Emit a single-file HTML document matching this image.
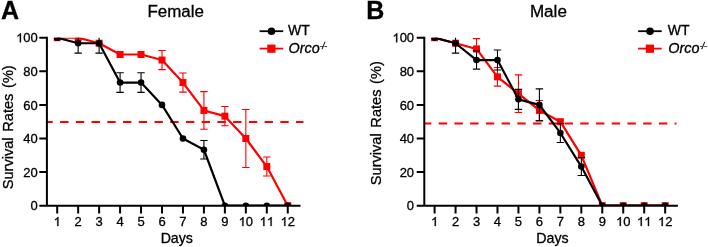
<!DOCTYPE html>
<html><head><meta charset="utf-8"><style>
html,body{margin:0;padding:0;background:#fff;width:708px;height:247px;overflow:hidden}
svg{display:block;will-change:transform}
text{font-family:"Liberation Sans",sans-serif;fill:#000;stroke:#000;stroke-width:0.3px}
</style></head><body>
<svg width="708" height="247" viewBox="0 0 708 247">
<rect width="708" height="247" fill="#fff"/>
<text x="1" y="18.8" font-weight="bold" font-size="25">A</text>
<text x="175.7" y="16.6" text-anchor="middle" font-size="16" textLength="56.5" lengthAdjust="spacingAndGlyphs">Female</text>
<text transform="translate(12.8,127.3) rotate(-90)" text-anchor="middle" font-size="14.6" word-spacing="1.6">Survival Rates (%)</text>
<text x="37.8" y="210.3" text-anchor="end" font-size="13">0</text>
<text x="37.8" y="176.7" text-anchor="end" font-size="13">20</text>
<text x="37.8" y="143.1" text-anchor="end" font-size="13">40</text>
<text x="37.8" y="109.5" text-anchor="end" font-size="13">60</text>
<text x="37.8" y="75.9" text-anchor="end" font-size="13">80</text>
<text x="37.8" y="42.3" text-anchor="end" font-size="13"><tspan fill="transparent" stroke="transparent">1</tspan>00</text>
<path transform="translate(16.12,42.3) scale(0.006348,-0.006348)" d="M763 0L583 0L583 1095C540 1056 483 1017 413 978C343 939 280 909 223 889L223 1055C324 1100 412 1155 487 1220C562 1285 615 1348 646 1409L763 1409Z" stroke="#000" stroke-width="47.3"/>
<text x="57.2" y="226" text-anchor="middle" font-size="13"><tspan fill="transparent" stroke="transparent">1</tspan></text>
<path transform="translate(53.59,226) scale(0.006348,-0.006348)" d="M763 0L583 0L583 1095C540 1056 483 1017 413 978C343 939 280 909 223 889L223 1055C324 1100 412 1155 487 1220C562 1285 615 1348 646 1409L763 1409Z" stroke="#000" stroke-width="47.3"/>
<text x="78.16" y="226" text-anchor="middle" font-size="13">2</text>
<text x="99.12" y="226" text-anchor="middle" font-size="13">3</text>
<text x="120.08" y="226" text-anchor="middle" font-size="13">4</text>
<text x="141.04" y="226" text-anchor="middle" font-size="13">5</text>
<text x="162" y="226" text-anchor="middle" font-size="13">6</text>
<text x="182.96" y="226" text-anchor="middle" font-size="13">7</text>
<text x="203.92" y="226" text-anchor="middle" font-size="13">8</text>
<text x="224.88" y="226" text-anchor="middle" font-size="13">9</text>
<text x="245.84" y="226" text-anchor="middle" font-size="13"><tspan fill="transparent" stroke="transparent">1</tspan>0</text>
<path transform="translate(238.61,226) scale(0.006348,-0.006348)" d="M763 0L583 0L583 1095C540 1056 483 1017 413 978C343 939 280 909 223 889L223 1055C324 1100 412 1155 487 1220C562 1285 615 1348 646 1409L763 1409Z" stroke="#000" stroke-width="47.3"/>
<text x="266.8" y="226" text-anchor="middle" font-size="13"><tspan fill="transparent" stroke="transparent">1</tspan><tspan fill="transparent" stroke="transparent">1</tspan></text>
<path transform="translate(259.57,226) scale(0.006348,-0.006348)" d="M763 0L583 0L583 1095C540 1056 483 1017 413 978C343 939 280 909 223 889L223 1055C324 1100 412 1155 487 1220C562 1285 615 1348 646 1409L763 1409Z" stroke="#000" stroke-width="47.3"/>
<path transform="translate(266.8,226) scale(0.006348,-0.006348)" d="M763 0L583 0L583 1095C540 1056 483 1017 413 978C343 939 280 909 223 889L223 1055C324 1100 412 1155 487 1220C562 1285 615 1348 646 1409L763 1409Z" stroke="#000" stroke-width="47.3"/>
<text x="287.76" y="226" text-anchor="middle" font-size="13"><tspan fill="transparent" stroke="transparent">1</tspan>2</text>
<path transform="translate(280.53,226) scale(0.006348,-0.006348)" d="M763 0L583 0L583 1095C540 1056 483 1017 413 978C343 939 280 909 223 889L223 1055C324 1100 412 1155 487 1220C562 1285 615 1348 646 1409L763 1409Z" stroke="#000" stroke-width="47.3"/>
<text x="176.8" y="242.8" text-anchor="middle" font-size="14.2">Days</text>
<path d="M46.9 122.1H303.5" stroke="#ff0000" stroke-width="2" stroke-dasharray="8.4 7.33" stroke-dashoffset="2.54"/>
<clipPath id="cA"><rect x="46.9" y="37.7" width="253.1" height="168"/></clipPath>
<g clip-path="url(#cA)">
<path d="M162 50.44V69.64M158.3 50.44h7.4M158.3 69.64h7.4M182.96 72.96V92.16M179.26 72.96h7.4M179.26 92.16h7.4M203.92 91.64V129.24M200.22 91.64h7.4M200.22 129.24h7.4M224.88 106.56V125.76M221.18 106.56h7.4M221.18 125.76h7.4M245.84 109.5V167.5M242.14 109.5h7.4M242.14 167.5h7.4M266.8 157.06V176.06M263.1 157.06h7.4M263.1 176.06h7.4" stroke="#ff0000" stroke-width="1.1" fill="none"/>
<polyline points="57.2,37.7 78.16,37.7 99.12,43.24 120.08,54.5 141.04,54.5 162,60.04 182.96,82.56 203.92,110.44 224.88,116.16 245.84,138.5 266.8,166.56 287.76,205.7" stroke="#ff0000" stroke-width="2.2" fill="none" stroke-linejoin="round"/>
<rect x="53.7" y="34.2" width="7" height="7" fill="#ff0000"/>
<rect x="74.66" y="34.2" width="7" height="7" fill="#ff0000"/>
<rect x="95.62" y="39.74" width="7" height="7" fill="#ff0000"/>
<rect x="116.58" y="51" width="7" height="7" fill="#ff0000"/>
<rect x="137.54" y="51" width="7" height="7" fill="#ff0000"/>
<rect x="158.5" y="56.54" width="7" height="7" fill="#ff0000"/>
<rect x="179.46" y="79.06" width="7" height="7" fill="#ff0000"/>
<rect x="200.42" y="106.94" width="7" height="7" fill="#ff0000"/>
<rect x="221.38" y="112.66" width="7" height="7" fill="#ff0000"/>
<rect x="242.34" y="135" width="7" height="7" fill="#ff0000"/>
<rect x="263.3" y="163.06" width="7" height="7" fill="#ff0000"/>
<rect x="284.26" y="202.2" width="7" height="7" fill="#ff0000"/>
<path d="M78.16 33.34V53.14M74.46 33.34h7.4M74.46 53.14h7.4M99.12 33.34V53.14M95.42 33.34h7.4M95.42 53.14h7.4M120.08 72.76V92.36M116.38 72.76h7.4M116.38 92.36h7.4M141.04 72.76V92.36M137.34 72.76h7.4M137.34 92.36h7.4M203.92 140.46V159.06M200.22 140.46h7.4M200.22 159.06h7.4" stroke="#000000" stroke-width="1.1" fill="none"/>
<polyline points="57.2,37.7 78.16,43.24 99.12,43.24 120.08,82.56 141.04,82.56 162,104.9 182.96,138.5 203.92,149.76 224.88,205.7 245.84,205.7 266.8,205.7 287.76,205.7" stroke="#000000" stroke-width="2.2" fill="none" stroke-linejoin="round"/>
<circle cx="57.2" cy="37.7" r="3.3" fill="#000000"/>
<circle cx="78.16" cy="43.24" r="3.3" fill="#000000"/>
<circle cx="99.12" cy="43.24" r="3.3" fill="#000000"/>
<circle cx="120.08" cy="82.56" r="3.3" fill="#000000"/>
<circle cx="141.04" cy="82.56" r="3.3" fill="#000000"/>
<circle cx="162" cy="104.9" r="3.3" fill="#000000"/>
<circle cx="182.96" cy="138.5" r="3.3" fill="#000000"/>
<circle cx="203.92" cy="149.76" r="3.3" fill="#000000"/>
<circle cx="224.88" cy="205.7" r="3.3" fill="#000000"/>
<circle cx="245.84" cy="205.7" r="3.3" fill="#000000"/>
<circle cx="266.8" cy="205.7" r="3.3" fill="#000000"/>
<circle cx="287.76" cy="205.7" r="3.3" fill="#000000"/>
</g>
<path d="M46.9 36.7V206.7M39.3 205.7H300.5" stroke="#000000" stroke-width="2" fill="none"/>
<path d="M39.3 172.1H46.9M39.3 138.5H46.9M39.3 104.9H46.9M39.3 71.3H46.9M39.3 37.7H46.9M57.2 205.7V213.5M78.16 205.7V213.5M99.12 205.7V213.5M120.08 205.7V213.5M141.04 205.7V213.5M162 205.7V213.5M182.96 205.7V213.5M203.92 205.7V213.5M224.88 205.7V213.5M245.84 205.7V213.5M266.8 205.7V213.5M287.76 205.7V213.5" stroke="#000000" stroke-width="2" fill="none"/>
<path d="M259.6 31.2H283.2" stroke="#000000" stroke-width="1.8"/>
<circle cx="271.5" cy="31.2" r="3.8" fill="#000000"/>
<text x="288" y="35.3" font-size="14">WT</text>
<path d="M259.6 48.6H283.2" stroke="#ff0000" stroke-width="1.8"/>
<rect x="267.3" y="44.6" width="8.2" height="8.2" fill="#ff0000"/>
<text x="288.5" y="52.9" font-size="14.4" font-style="italic">Orco<tspan font-size="8.3" dx="0.3" dy="-4.2" letter-spacing="-0.45">-/-</tspan></text>
<text x="366.3" y="18.8" font-weight="bold" font-size="25">B</text>
<text x="548.4" y="16.6" text-anchor="middle" font-size="16" textLength="37" lengthAdjust="spacingAndGlyphs">Male</text>
<text transform="translate(380.9,123.2) rotate(-90)" text-anchor="middle" font-size="14.6" word-spacing="1.6">Survival Rates (%)</text>
<text x="414.1" y="210.3" text-anchor="end" font-size="13">0</text>
<text x="414.1" y="176.7" text-anchor="end" font-size="13">20</text>
<text x="414.1" y="143.1" text-anchor="end" font-size="13">40</text>
<text x="414.1" y="109.5" text-anchor="end" font-size="13">60</text>
<text x="414.1" y="75.9" text-anchor="end" font-size="13">80</text>
<text x="414.1" y="42.3" text-anchor="end" font-size="13"><tspan fill="transparent" stroke="transparent">1</tspan>00</text>
<path transform="translate(392.42,42.3) scale(0.006348,-0.006348)" d="M763 0L583 0L583 1095C540 1056 483 1017 413 978C343 939 280 909 223 889L223 1055C324 1100 412 1155 487 1220C562 1285 615 1348 646 1409L763 1409Z" stroke="#000" stroke-width="47.3"/>
<text x="434.6" y="226" text-anchor="middle" font-size="13"><tspan fill="transparent" stroke="transparent">1</tspan></text>
<path transform="translate(430.99,226) scale(0.006348,-0.006348)" d="M763 0L583 0L583 1095C540 1056 483 1017 413 978C343 939 280 909 223 889L223 1055C324 1100 412 1155 487 1220C562 1285 615 1348 646 1409L763 1409Z" stroke="#000" stroke-width="47.3"/>
<text x="455.56" y="226" text-anchor="middle" font-size="13">2</text>
<text x="476.52" y="226" text-anchor="middle" font-size="13">3</text>
<text x="497.48" y="226" text-anchor="middle" font-size="13">4</text>
<text x="518.44" y="226" text-anchor="middle" font-size="13">5</text>
<text x="539.4" y="226" text-anchor="middle" font-size="13">6</text>
<text x="560.36" y="226" text-anchor="middle" font-size="13">7</text>
<text x="581.32" y="226" text-anchor="middle" font-size="13">8</text>
<text x="602.28" y="226" text-anchor="middle" font-size="13">9</text>
<text x="623.24" y="226" text-anchor="middle" font-size="13"><tspan fill="transparent" stroke="transparent">1</tspan>0</text>
<path transform="translate(616.01,226) scale(0.006348,-0.006348)" d="M763 0L583 0L583 1095C540 1056 483 1017 413 978C343 939 280 909 223 889L223 1055C324 1100 412 1155 487 1220C562 1285 615 1348 646 1409L763 1409Z" stroke="#000" stroke-width="47.3"/>
<text x="644.2" y="226" text-anchor="middle" font-size="13"><tspan fill="transparent" stroke="transparent">1</tspan><tspan fill="transparent" stroke="transparent">1</tspan></text>
<path transform="translate(636.97,226) scale(0.006348,-0.006348)" d="M763 0L583 0L583 1095C540 1056 483 1017 413 978C343 939 280 909 223 889L223 1055C324 1100 412 1155 487 1220C562 1285 615 1348 646 1409L763 1409Z" stroke="#000" stroke-width="47.3"/>
<path transform="translate(644.2,226) scale(0.006348,-0.006348)" d="M763 0L583 0L583 1095C540 1056 483 1017 413 978C343 939 280 909 223 889L223 1055C324 1100 412 1155 487 1220C562 1285 615 1348 646 1409L763 1409Z" stroke="#000" stroke-width="47.3"/>
<text x="665.16" y="226" text-anchor="middle" font-size="13"><tspan fill="transparent" stroke="transparent">1</tspan>2</text>
<path transform="translate(657.93,226) scale(0.006348,-0.006348)" d="M763 0L583 0L583 1095C540 1056 483 1017 413 978C343 939 280 909 223 889L223 1055C324 1100 412 1155 487 1220C562 1285 615 1348 646 1409L763 1409Z" stroke="#000" stroke-width="47.3"/>
<text x="552.5" y="242.8" text-anchor="middle" font-size="14.2">Days</text>
<path d="M424.3 123.6H676.5" stroke="#ff0000" stroke-width="2" stroke-dasharray="8.4 7.33" stroke-dashoffset="1.34"/>
<clipPath id="cB"><rect x="424.3" y="37.7" width="253.1" height="168"/></clipPath>
<g clip-path="url(#cB)">
<path d="M476.52 38.66V59.26M472.82 38.66h7.4M472.82 59.26h7.4M497.48 67.54V86.14M493.78 67.54h7.4M493.78 86.14h7.4M518.44 74.84V112.44M514.74 74.84h7.4M514.74 112.44h7.4M539.4 100.44V120.44M535.7 100.44h7.4M535.7 120.44h7.4" stroke="#ff0000" stroke-width="1.1" fill="none"/>
<polyline points="434.6,37.7 455.56,43.24 476.52,48.96 497.48,76.84 518.44,93.64 539.4,110.44 560.36,121.7 581.32,155.3 602.28,205.7 623.24,205.7 644.2,205.7 665.16,205.7" stroke="#ff0000" stroke-width="2.2" fill="none" stroke-linejoin="round"/>
<rect x="431.1" y="34.2" width="7" height="7" fill="#ff0000"/>
<rect x="452.06" y="39.74" width="7" height="7" fill="#ff0000"/>
<rect x="473.02" y="45.46" width="7" height="7" fill="#ff0000"/>
<rect x="493.98" y="73.34" width="7" height="7" fill="#ff0000"/>
<rect x="514.94" y="90.14" width="7" height="7" fill="#ff0000"/>
<rect x="535.9" y="106.94" width="7" height="7" fill="#ff0000"/>
<rect x="556.86" y="118.2" width="7" height="7" fill="#ff0000"/>
<rect x="577.82" y="151.8" width="7" height="7" fill="#ff0000"/>
<rect x="598.78" y="202.2" width="7" height="7" fill="#ff0000"/>
<rect x="619.74" y="202.2" width="7" height="7" fill="#ff0000"/>
<rect x="640.7" y="202.2" width="7" height="7" fill="#ff0000"/>
<rect x="661.66" y="202.2" width="7" height="7" fill="#ff0000"/>
<path d="M455.56 33.34V53.14M451.86 33.34h7.4M451.86 53.14h7.4M476.52 50.94V69.14M472.82 50.94h7.4M472.82 69.14h7.4M497.48 50.04V70.04M493.78 50.04h7.4M493.78 70.04h7.4M518.44 89.36V109.36M514.74 89.36h7.4M514.74 109.36h7.4M539.4 88.9V120.9M535.7 88.9h7.4M535.7 120.9h7.4M560.36 123.46V142.46M556.66 123.46h7.4M556.66 142.46h7.4M581.32 157.56V175.56M577.62 157.56h7.4M577.62 175.56h7.4" stroke="#000000" stroke-width="1.1" fill="none"/>
<polyline points="434.6,37.7 455.56,43.24 476.52,60.04 497.48,60.04 518.44,99.36 539.4,104.9 560.36,132.96 581.32,166.56 602.28,205.7 623.24,205.7 644.2,205.7 665.16,205.7" stroke="#000000" stroke-width="2.2" fill="none" stroke-linejoin="round"/>
<circle cx="434.6" cy="37.7" r="3.3" fill="#000000"/>
<circle cx="455.56" cy="43.24" r="3.3" fill="#000000"/>
<circle cx="476.52" cy="60.04" r="3.3" fill="#000000"/>
<circle cx="497.48" cy="60.04" r="3.3" fill="#000000"/>
<circle cx="518.44" cy="99.36" r="3.3" fill="#000000"/>
<circle cx="539.4" cy="104.9" r="3.3" fill="#000000"/>
<circle cx="560.36" cy="132.96" r="3.3" fill="#000000"/>
<circle cx="581.32" cy="166.56" r="3.3" fill="#000000"/>
<circle cx="602.28" cy="205.7" r="3.3" fill="#000000"/>
<circle cx="623.24" cy="205.7" r="3.3" fill="#000000"/>
<circle cx="644.2" cy="205.7" r="3.3" fill="#000000"/>
<circle cx="665.16" cy="205.7" r="3.3" fill="#000000"/>
</g>
<path d="M424.3 36.7V206.7M416.7 205.7H677.9" stroke="#000000" stroke-width="2" fill="none"/>
<path d="M416.7 172.1H424.3M416.7 138.5H424.3M416.7 104.9H424.3M416.7 71.3H424.3M416.7 37.7H424.3M434.6 205.7V213.5M455.56 205.7V213.5M476.52 205.7V213.5M497.48 205.7V213.5M518.44 205.7V213.5M539.4 205.7V213.5M560.36 205.7V213.5M581.32 205.7V213.5M602.28 205.7V213.5M623.24 205.7V213.5M644.2 205.7V213.5M665.16 205.7V213.5" stroke="#000000" stroke-width="2" fill="none"/>
<path d="M638.1 31.2H661.7" stroke="#000000" stroke-width="1.8"/>
<circle cx="650" cy="31.2" r="3.8" fill="#000000"/>
<text x="667.8" y="35.3" font-size="14">WT</text>
<path d="M638.1 48.6H661.7" stroke="#ff0000" stroke-width="1.8"/>
<rect x="645.8" y="44.6" width="8.2" height="8.2" fill="#ff0000"/>
<text x="668.3" y="52.9" font-size="14.4" font-style="italic">Orco<tspan font-size="8.3" dx="0.3" dy="-4.2" letter-spacing="-0.45">-/-</tspan></text>
</svg>
</body></html>
